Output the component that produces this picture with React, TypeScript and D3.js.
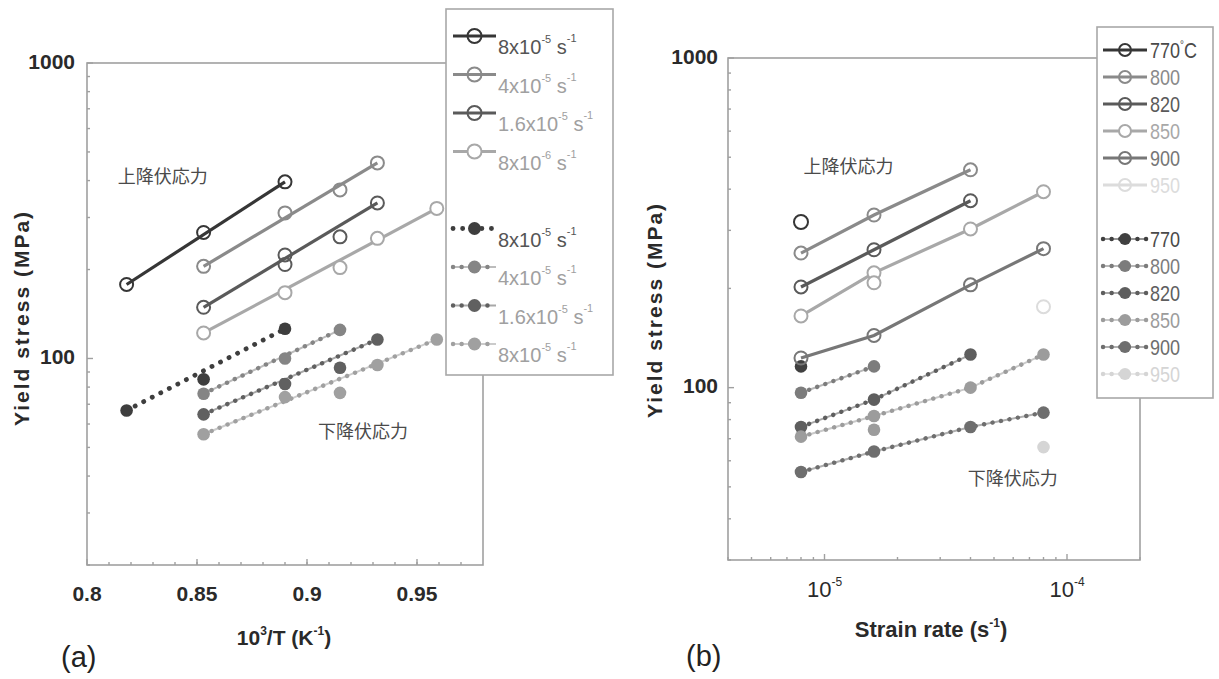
import React from "react";
import * as d3 from "d3";

const W = 1219;
const H = 679;
const FONT = "'Liberation Sans', Arial, Helvetica, sans-serif";
const CJK = "'Noto Sans CJK JP', 'Noto Sans CJK SC', sans-serif";

// ---------- Panel (a): stress vs 10^3/T ----------
// columns: 950, 900, 850, 820, 800, 770 °C
const invTemp = [0.818, 0.853, 0.89, 0.915, 0.932, 0.959];
const upperA_8e5 = [178, 267, 396, null, null, null];
const upperA_4e5 = [null, 205, 311, 372, 459, null];
const upperA_16e6 = [null, 149, 224, 258, 336, null];
const upperA_8e6 = [null, 122, 167, 203, 255, 322];
const lowerA_8e5 = [66.7, 85, 126, null, null, null];
const lowerA_4e5 = [null, 76, 100, 125, null, null];
const lowerA_16e6 = [null, 64.7, 82, 93, 116, null];
const lowerA_8e6 = [null, 55.4, 74, 76.5, 95, 116];
// extra repeated measurement
const extraUpperA_16e6 = [null, null, 208, null, null, null];

const xTicksA = [0.8, 0.85, 0.9, 0.95];
const xTickLabelsA = ["0.8", "0.85", "0.9", "0.95"];
const legendRateA = ["8x10", "4x10", "1.6x10", "8x10"];
const legendExpUpperA = ["-5", "-5", "-5", "-6"];
const legendExpLowerA = ["-5", "-5", "-5", "-5"];

// ---------- Panel (b): stress vs strain rate ----------
const strainRates = [8e-6, 1.6e-5, 4e-5, 8e-5];
const upperB_770 = [318, null, null, null];
const upperB_800 = [256, 334, 458, null];
const upperB_820 = [202, 262, 369, null];
const upperB_850 = [165, 223, 303, 393];
const upperB_900 = [123, 144, 205, 264];
const upperB_950 = [null, null, null, 176];
const lowerB_770 = [116, null, null, null];
const lowerB_800 = [96.5, 116, null, null];
const lowerB_820 = [76, 92, 126, null];
const lowerB_850 = [71, 82, 100, 126];
const lowerB_900 = [55.5, 64, 76, 84];
const lowerB_950 = [null, null, null, 66];
const extraUpperB_850 = [null, 208, null, null];
const extraLowerB_850 = [null, 74.5, null, null];

const legendTempsB = ["770", "800", "820", "850", "900", "950"];
const yMajorTicks = [100, 1000];

// ---------- styles ----------
const upColA = ["#363636", "#8a8a8a", "#5a5a5a", "#a8a8a8"];
const upFillA = ["none", "none", "none", "#ffffff"];
const loColA = ["#3e3e3e", "#858585", "#606060", "#a0a0a0"];
const upColB = ["#363636", "#8a8a8a", "#5a5a5a", "#a8a8a8", "#777777", "#dcdcdc"];
const upFillB = ["none", "none", "none", "#ffffff", "none", "none"];
const loColB = ["#404040", "#7c7c7c", "#5e5e5e", "#9c9c9c", "#6e6e6e", "#d5d5d5"];

function SeriesLine({ xs, ys, x, y, color, kind, straight }: any) {
  let pts = xs
    .map((xv: number, i: number) => [xv, ys[i]])
    .filter((p: any) => p[1] != null) as [number, number][];
  if (pts.length < 2) return null;
  if (straight) pts = [pts[0], pts[pts.length - 1]];
  const line = d3
    .line<[number, number]>()
    .x((d) => x(d[0]))
    .y((d) => y(d[1]));
  const d = line(pts) || "";
  if (kind === "upper")
    return <path d={d} fill="none" stroke={color} strokeWidth={3.2} />;
  if (kind === "dots")
    return (
      <path d={d} fill="none" stroke={color} strokeWidth={4.8} strokeLinecap="round" strokeDasharray="0.1 9.5" />
    );
  return (
    <g>
      <path d={d} fill="none" stroke={color} strokeWidth={2} strokeOpacity={0.55} />
      <path d={d} fill="none" stroke={color} strokeWidth={4.4} strokeLinecap="round" strokeDasharray="0.1 8.5" />
    </g>
  );
}

function SeriesMarkers({ xs, ys, x, y, color, fill, kind, r }: any) {
  return (
    <g>
      {xs.map((xv: number, i: number) =>
        ys[i] == null ? null : kind === "upper" ? (
          <circle key={i} cx={x(xv)} cy={y(ys[i])} r={r || 6.5} fill={fill} stroke={color} strokeWidth={2} />
        ) : (
          <circle key={i} cx={x(xv)} cy={y(ys[i])} r={r || 6.3} fill={color} />
        )
      )}
    </g>
  );
}

function Frame({ x, y, left, right, top, bottom, xMajor, xMinor, yMajor, yMinor }: any) {
  const c = "#a0a0a0";
  return (
    <g>
      <rect x={left} y={top} width={right - left} height={bottom - top} fill="none" stroke={c} strokeWidth={1.6} />
      {xMinor.map((t: number, i: number) => (
        <line key={"xm" + i} x1={x(t)} x2={x(t)} y1={bottom} y2={bottom - 3} stroke={c} strokeWidth={1.4} />
      ))}
      {xMajor.map((t: number, i: number) => (
        <line key={"xM" + i} x1={x(t)} x2={x(t)} y1={bottom} y2={bottom - 6} stroke={c} strokeWidth={1.4} />
      ))}
      {yMinor.map((t: number, i: number) => (
        <line key={"ym" + i} x1={left} x2={left + 3} y1={y(t)} y2={y(t)} stroke={c} strokeWidth={1.4} />
      ))}
      {yMajor.map((t: number, i: number) => (
        <line key={"yM" + i} x1={left} x2={left + 6} y1={y(t)} y2={y(t)} stroke={c} strokeWidth={1.4} />
      ))}
    </g>
  );
}

function LegendRow({ x0, x1, yy, color, fill, kind, r }: any) {
  const id = (v: number) => v;
  return (
    <g>
      <SeriesLine xs={[x0, x1]} ys={[yy, yy]} x={id} y={id} color={color} kind={kind} />
      {kind === "upper" ? (
        <circle cx={(x0 + x1) / 2} cy={yy} r={r || 7} fill={fill} stroke={color} strokeWidth={2} />
      ) : (
        <circle cx={(x0 + x1) / 2} cy={yy} r={r || 6.5} fill={color} />
      )}
    </g>
  );
}

export default function App() {
  // scales panel (a)
  const xA = d3.scaleLinear().domain([0.8, 0.98]).range([87, 483]);
  const yA = d3.scaleLog().domain([20, 1000]).range([565, 63]);
  // scales panel (b)
  const xB = d3.scaleLog().domain([4e-6, 2e-4]).range([728, 1140]);
  const yB = d3.scaleLog().domain([30, 1000]).range([560, 58]);

  const xMinorA = d3.range(0.81, 0.975, 0.01);
  const yMinorA = yA.ticks().filter((t) => !yMajorTicks.includes(t));
  const xMinorB = xB.ticks().filter((t) => Math.abs(Math.log10(t) - Math.round(Math.log10(t))) > 1e-6);
  const xMajorB = [1e-5, 1e-4];
  const yMinorB = yB.ticks().filter((t) => !yMajorTicks.includes(t));

  const upperA = [upperA_8e5, upperA_4e5, upperA_16e6, upperA_8e6];
  const lowerA = [lowerA_8e5, lowerA_4e5, lowerA_16e6, lowerA_8e6];
  const upperB = [upperB_770, upperB_800, upperB_820, upperB_850, upperB_900, upperB_950];
  const lowerB = [lowerB_770, lowerB_800, lowerB_820, lowerB_850, lowerB_900, lowerB_950];

  const legA_rows = [36, 74.5, 113, 151.5, 228.5, 267, 305.5, 344];
  const legB_rows = [50, 77, 104, 131, 158, 185, 239, 266, 293, 320, 347, 374];

  const tickStyle: any = { fontFamily: FONT, fontSize: 21, fontWeight: "bold", fill: "#2a2a2a" };

  return (
    <svg width={W} height={H} style={{ position: "absolute", left: 0, top: 0, background: "#fff" }}>
      <rect x={0} y={0} width={W} height={H} fill="#fff" />

      {/* ================= Panel (a) ================= */}
      <Frame x={xA} y={yA} left={87} right={483} top={63} bottom={565}
        xMajor={xTicksA} xMinor={xMinorA} yMajor={yMajorTicks} yMinor={yMinorA} />

      {lowerA.map((ys, i) => (
        <SeriesLine key={"la" + i} xs={invTemp} ys={ys} x={xA} y={yA} color={loColA[i]} kind={i === 0 ? "dots" : "beads"} straight />
      ))}
      {lowerA.map((ys, i) => (
        <SeriesMarkers key={"lam" + i} xs={invTemp} ys={ys} x={xA} y={yA} color={loColA[i]} kind="lower" />
      ))}
      {upperA.map((ys, i) => (
        <SeriesLine key={"ua" + i} xs={invTemp} ys={ys} x={xA} y={yA} color={upColA[i]} kind="upper" straight />
      ))}
      {upperA.map((ys, i) => (
        <SeriesMarkers key={"uam" + i} xs={invTemp} ys={ys} x={xA} y={yA} color={upColA[i]} fill={upFillA[i]} kind="upper" />
      ))}
      <SeriesMarkers xs={invTemp} ys={extraUpperA_16e6} x={xA} y={yA} color={upColA[2]} fill="none" kind="upper" />

      <text x={xA(0.814)} y={yA(408)} dominantBaseline="middle" fontFamily={CJK} fontSize={18} fill="#4a4a4a">上降伏応力</text>
      <text x={xA(0.905)} y={yA(56)} dominantBaseline="middle" fontFamily={CJK} fontSize={18} fill="#4a4a4a">下降伏応力</text>

      {yMajorTicks.map((t) => (
        <text key={"ya" + t} x={75} y={yA(t)} textAnchor="end" dominantBaseline="middle" {...tickStyle}>{t}</text>
      ))}
      {xTicksA.map((t, i) => (
        <text key={"xa" + t} x={xA(t)} y={601} textAnchor="middle" {...tickStyle}>{xTickLabelsA[i]}</text>
      ))}
      <text transform="translate(29,318) rotate(-90)" textAnchor="middle" fontFamily={FONT} fontSize={21} fontWeight="bold" letterSpacing={2} fill="#2a2a2a">Yield stress (MPa)</text>
      <text x={284} y={645} textAnchor="middle" fontFamily={FONT} fontSize={21} fontWeight="bold" fill="#2a2a2a">
        10<tspan dy={-10} fontSize={12}>3</tspan><tspan dy={10}>/T (K</tspan><tspan dy={-10} fontSize={12}>-1</tspan><tspan dy={10}>)</tspan>
      </text>
      <text x={61} y={667} fontFamily={FONT} fontSize={29} fill="#222">(a)</text>

      {/* legend (a) */}
      <rect x={446} y={9} width={167} height={366} fill="#fff" stroke="#a8a8a8" strokeWidth={1.6} />
      {[0, 1, 2, 3].map((i) => (
        <g key={"lgu" + i}>
          <LegendRow x0={453} x1={496} yy={legA_rows[i]} color={upColA[i]} fill={upFillA[i]} kind="upper" />
          <text x={498} y={legA_rows[i] + 18} fontFamily={FONT} fontSize={20} fill={i === 0 ? "#555" : "#a0a0a0"}>
            {legendRateA[i]}<tspan dy={-11} fontSize={11}>{legendExpUpperA[i]}</tspan><tspan dy={11}> s</tspan><tspan dy={-12} fontSize={11}>-1</tspan>
          </text>
        </g>
      ))}
      {[0, 1, 2, 3].map((i) => (
        <g key={"lgl" + i}>
          <LegendRow x0={453} x1={496} yy={legA_rows[i + 4]} color={loColA[i]} kind={i === 0 ? "dots" : "beads"} />
          <text x={498} y={legA_rows[i + 4] + 18} fontFamily={FONT} fontSize={20} fill={i === 0 ? "#555" : "#a0a0a0"}>
            {legendRateA[i]}<tspan dy={-11} fontSize={11}>{legendExpLowerA[i]}</tspan><tspan dy={11}> s</tspan><tspan dy={-12} fontSize={11}>-1</tspan>
          </text>
        </g>
      ))}

      {/* ================= Panel (b) ================= */}
      <Frame x={xB} y={yB} left={728} right={1140} top={58} bottom={560}
        xMajor={xMajorB} xMinor={xMinorB} yMajor={yMajorTicks} yMinor={yMinorB} />

      {lowerB.map((ys, i) => (
        <SeriesLine key={"lb" + i} xs={strainRates} ys={ys} x={xB} y={yB} color={loColB[i]} kind="beads" />
      ))}
      {lowerB.map((ys, i) => (
        <SeriesMarkers key={"lbm" + i} xs={strainRates} ys={ys} x={xB} y={yB} color={loColB[i]} kind="lower" />
      ))}
      <SeriesMarkers xs={strainRates} ys={extraLowerB_850} x={xB} y={yB} color={loColB[3]} kind="lower" />
      {upperB.map((ys, i) => (
        <SeriesLine key={"ub" + i} xs={strainRates} ys={ys} x={xB} y={yB} color={upColB[i]} kind="upper" />
      ))}
      {upperB.map((ys, i) => (
        <SeriesMarkers key={"ubm" + i} xs={strainRates} ys={ys} x={xB} y={yB} color={upColB[i]} fill={upFillB[i]} kind="upper" r={i === 0 ? 7 : 6.5} />
      ))}
      <SeriesMarkers xs={strainRates} ys={extraUpperB_850} x={xB} y={yB} color={upColB[3]} fill="#fff" kind="upper" />

      <text x={xB(8.2e-6)} y={yB(463)} dominantBaseline="middle" fontFamily={CJK} fontSize={18} fill="#4a4a4a">上降伏応力</text>
      <text x={xB(3.9e-5)} y={yB(52.5)} dominantBaseline="middle" fontFamily={CJK} fontSize={18} fill="#4a4a4a">下降伏応力</text>

      {yMajorTicks.map((t) => (
        <text key={"yb" + t} x={718} y={yB(t)} textAnchor="end" dominantBaseline="middle" {...tickStyle}>{t}</text>
      ))}
      {xMajorB.map((t) => (
        <text key={"xb" + t} x={xB(t)} y={597} textAnchor="middle" fontFamily={FONT} fontSize={22} fill="#2a2a2a">
          10<tspan dy={-11} fontSize={12}>{"-" + Math.round(-Math.log10(t))}</tspan>
        </text>
      ))}
      <text transform="translate(662,310) rotate(-90)" textAnchor="middle" fontFamily={FONT} fontSize={21} fontWeight="bold" letterSpacing={2} fill="#2a2a2a">Yield stress (MPa)</text>
      <text x={931} y={637} textAnchor="middle" fontFamily={FONT} fontSize={22} fontWeight="bold" fill="#2a2a2a">
        Strain rate (s<tspan dy={-10} fontSize={12}>-1</tspan><tspan dy={10}>)</tspan>
      </text>
      <text x={686} y={666} fontFamily={FONT} fontSize={29} fill="#222">(b)</text>

      {/* legend (b) */}
      <rect x={1097} y={27} width={116} height={371} fill="#fff" stroke="#a8a8a8" strokeWidth={1.6} />
      {legendTempsB.map((t, i) => (
        <g key={"lbu" + i}>
          <LegendRow x0={1103} x1={1147} yy={legB_rows[i]} color={upColB[i]} fill={upFillB[i]} kind="upper" r={6} />
          <text transform={`translate(1150,${legB_rows[i] + 8}) scale(0.82,1)`} fontFamily={FONT} fontSize={22} fill={i === 0 ? "#4a4a4a" : upColB[i]}>
            {t}{i === 0 ? <><tspan dy={-9} fontSize={12}>°</tspan><tspan dy={9}>C</tspan></> : null}
          </text>
        </g>
      ))}
      {legendTempsB.map((t, i) => (
        <g key={"lbl" + i}>
          <LegendRow x0={1103} x1={1147} yy={legB_rows[i + 6]} color={loColB[i]} kind="beads" r={6} />
          <text transform={`translate(1150,${legB_rows[i + 6] + 8}) scale(0.82,1)`} fontFamily={FONT} fontSize={22} fill={i === 0 ? "#4a4a4a" : loColB[i]}>
            {t}
          </text>
        </g>
      ))}
    </svg>
  );
}
